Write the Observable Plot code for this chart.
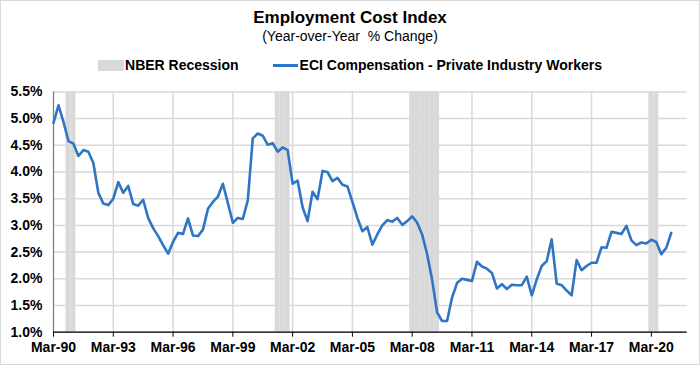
<!DOCTYPE html>
<html><head><meta charset="utf-8">
<script src="https://cdn.jsdelivr.net/npm/d3@7"></script>
<script src="https://cdn.jsdelivr.net/npm/@observablehq/plot@0.6"></script>
<style>
html,body{margin:0;padding:0;background:#fff;}
#wrap{position:relative;width:700px;height:365px;overflow:hidden;font-family:"Liberation Sans",Arial,sans-serif;color:#000;background:#fff;}
#frame{position:absolute;left:0;top:0;width:700px;height:365px;box-sizing:border-box;border:1px solid #d9d9d9;pointer-events:none;z-index:5;}
#title{position:absolute;left:0;width:700px;top:8px;line-height:20px;text-align:center;font-weight:bold;font-size:17px;}
#subtitle{position:absolute;left:0;width:700px;top:28px;line-height:16px;text-align:center;font-size:14px;}
#legend{position:absolute;left:0;width:700px;top:57px;line-height:16px;font-weight:bold;font-size:14px;display:flex;justify-content:center;align-items:center;}
.sw-rect{display:inline-block;width:26px;height:11px;background:#d9d9d9;margin-right:1px;}
.sw-line{display:inline-block;width:25px;height:3px;background:#2e75c6;margin-right:2px;margin-left:34px;}
#chart{position:absolute;left:0;top:80px;}
</style></head>
<body>
<div id="wrap">
  <div id="frame"></div>
  <div id="title"></div>
  <div id="subtitle"></div>
  <div id="legend"></div>
  <div id="chart"></div>
</div>
<script>
// ---- Data ----
const titleText = "Employment Cost Index";
const subtitleText = "(Year-over-Year\u00a0 % Change)";
const legendLabels = ["NBER Recession", "ECI Compensation - Private Industry Workers"];

const startYear = 1990; // first quarter: Mar-90, quarterly through Mar-21
const eciYoY = [
  4.92, 5.25, 4.94, 4.58,
  4.53, 4.30, 4.41, 4.38,
  4.17, 3.61, 3.41, 3.38,
  3.50, 3.81, 3.61, 3.74,
  3.40, 3.37, 3.48, 3.14,
  2.95, 2.80, 2.63, 2.47,
  2.69, 2.86, 2.84, 3.13,
  2.81, 2.80, 2.92, 3.31,
  3.44, 3.54, 3.78, 3.42,
  3.05, 3.14, 3.12, 3.47,
  4.63, 4.72, 4.68, 4.51,
  4.54, 4.38, 4.46, 4.41,
  3.78, 3.84, 3.34, 3.08,
  3.63, 3.49, 4.02, 4.00,
  3.83, 3.89, 3.76, 3.73,
  3.44, 3.14, 2.89, 2.97,
  2.64, 2.83, 3.00, 3.10,
  3.07, 3.14, 3.01, 3.08,
  3.17, 3.05, 2.83, 2.46,
  1.98, 1.37, 1.21, 1.21,
  1.65, 1.92, 2.00, 1.98,
  1.96, 2.32, 2.23, 2.19,
  2.11, 1.82, 1.90, 1.81,
  1.89, 1.88, 1.88, 2.04,
  1.69, 1.99, 2.24, 2.33,
  2.74, 1.91, 1.88, 1.78,
  1.69, 2.35, 2.16, 2.24,
  2.30, 2.30, 2.59, 2.58,
  2.88, 2.86, 2.84, 2.99,
  2.72, 2.63, 2.68, 2.66,
  2.73, 2.69, 2.46, 2.58,
  2.86
];

// Recession quarters (decimal year, Mar = .00, Jun = .25, Sep = .50, Dec = .75)
const recessionQuarters = [
  1990.75, 1991.00,
  2001.25, 2001.50, 2001.75,
  2008.00, 2008.25, 2008.50, 2008.75, 2009.00, 2009.25,
  2020.00, 2020.25
];

const tickYears = [1990, 1993, 1996, 1999, 2002, 2005, 2008, 2011, 2014, 2017, 2020];
const tickLabels = ["Mar-90","Mar-93","Mar-96","Mar-99","Mar-02","Mar-05","Mar-08","Mar-11","Mar-14","Mar-17","Mar-20"];
const yTicks = [1.0, 1.5, 2.0, 2.5, 3.0, 3.5, 4.0, 4.5, 5.0, 5.5];

// ---- Build ----
document.getElementById("title").textContent = titleText;
document.getElementById("subtitle").textContent = subtitleText;
const leg = document.getElementById("legend");
leg.innerHTML = '<span class="sw-rect"></span><span></span><span class="sw-line"></span><span></span>';
leg.children[1].textContent = legendLabels[0];
leg.children[3].textContent = legendLabels[1];

const rows = eciYoY.map((v, i) => ({x: startYear + i / 4, v}));
const recRows = recessionQuarters.map(q => ({x1: q - 0.125, x2: q + 0.125}));

const plot = Plot.plot({
  width: 700,
  height: 285,
  marginTop: 11.4,
  marginBottom: 33.3,
  marginLeft: 53,
  marginRight: 13.3,
  style: {fontFamily: "'Liberation Sans', Arial, sans-serif", fontSize: "14px", fontWeight: "bold", color: "#000", background: "transparent", overflow: "visible"},
  x: {type: "linear", domain: [1990, 2021.8]},
  y: {domain: [1, 5.5]},
  marks: [
    Plot.gridY(yTicks, {stroke: "#d9d9d9", strokeOpacity: 1, strokeWidth: 1.5}),
    Plot.gridX(tickYears.slice(1), {stroke: "#d9d9d9", strokeOpacity: 1, strokeWidth: 1.5}),
    Plot.rect(recRows, {x1: "x1", x2: "x2", y1: 1, y2: 5.5, fill: "#d9d9d9"}),
    Plot.ruleX([1990], {stroke: "#7f7f7f", strokeWidth: 1.3}),
    Plot.ruleY([1], {stroke: "#000", strokeWidth: 1.3}),
    Plot.axisY(yTicks, {tickSize: 0, tickPadding: 11, tickFormat: d => d.toFixed(1) + "%", label: null, fontWeight: "bold", fontSize: 14}),
    Plot.axisX(tickYears, {tickSize: 5, tickPadding: 5, tickFormat: d => tickLabels[tickYears.indexOf(d)], label: null, stroke: "#000", fontWeight: "bold", fontSize: 14}),
    Plot.line(rows, {x: "x", y: "v", stroke: "#2e75c6", strokeWidth: 2.6, strokeLinejoin: "round"})
  ]
});
document.getElementById("chart").appendChild(plot);
</script>
</body></html>
